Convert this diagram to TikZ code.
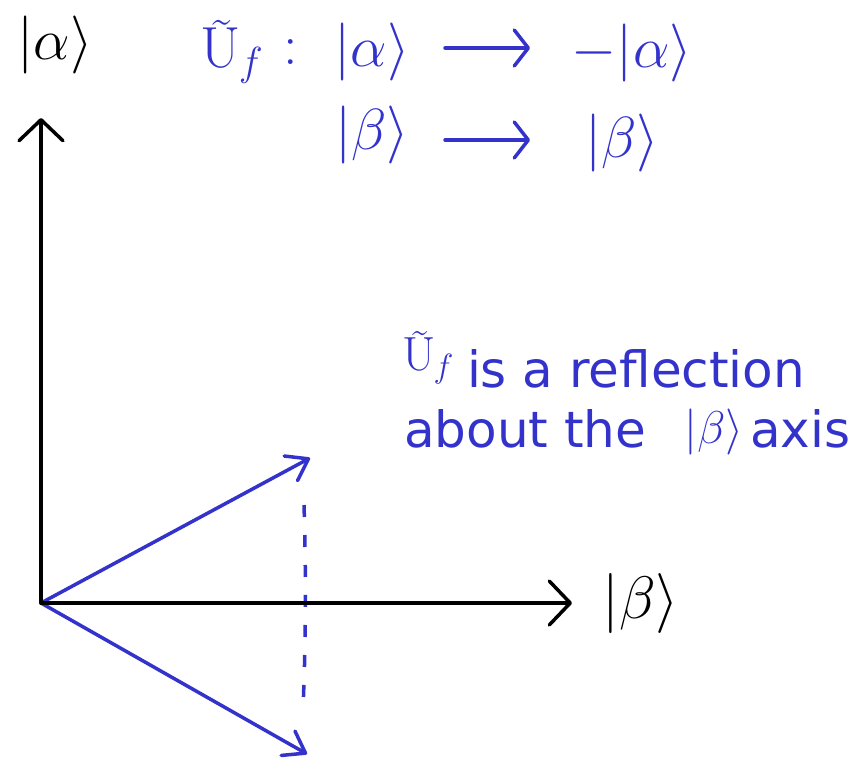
\RequirePackage{fix-cm}
\documentclass[tikz,border=0pt]{standalone}
\usepackage{fontspec}
\newfontfamily\dejavu{DejaVu Sans}
\usetikzlibrary{arrows.meta}
\definecolor{pen}{RGB}{51,51,204}
\newcommand\myfs[1]{\fontsize{#1}{#1}\selectfont}
\begin{document}
\begin{tikzpicture}[x=1pt,y=-1pt,
  axisline/.style={line width=3.5pt, line cap=round, black,
    -{Straight Barb[length=21pt,width=44pt,round]}},
  vecline/.style={line width=3.5pt, line cap=round, pen,
    -{Straight Barb[length=20pt,width=28pt,round]}},
  textarrow/.style={line width=3.5pt, line cap=round, pen,
    -{Straight Barb[length=14pt,width=36pt,round]}},
  dashline/.style={line width=3.5pt, pen, dash pattern=on 12pt off 18pt},
  hand/.style={inner sep=0pt, outer sep=0pt},
  prose/.style={inner sep=0pt, outer sep=0pt, pen, font=\dejavu\myfs{50}}
]
\useasboundingbox (0,0) rectangle (861,760);

% axes and vectors
\coordinate (O) at (41,603);
\coordinate (Ytip) at (41,118);
\coordinate (Xtip) at (572,603);
\coordinate (V1) at (310,458);
\coordinate (V2) at (307,754);
\coordinate (D1) at (304,505);
\coordinate (D2) at (303,708);

\draw[vecline] (O) -- (V1);
\draw[vecline] (O) -- (V2);
\draw[dashline] (D1) .. controls (306,570) and (306,640) .. (D2);
\draw[axisline] (O) -- (Ytip);
\draw[axisline] (O) -- (Xtip);

% axis labels
\node[hand, black, font=\myfs{58}] (alpha) at (55,45) {$|\alpha\rangle$};
\node[hand, black, font=\myfs{60}] (beta) at (641,603) {$|\beta\rangle$};

% top mapping
\node[hand, pen, font=\myfs{58}] (U) at (232,52) {Ũ\kern-2pt$_f$};
\node[hand, pen, font=\myfs{58}] (colon) at (291,52) {$:$};
\node[hand, pen, font=\myfs{58}] (ka1) at (372,52) {$|\alpha\rangle$};
\node[hand, pen, font=\myfs{58}] (ka2) at (632,53) {$-|\alpha\rangle$};
\node[hand, pen, font=\myfs{58}] (kb1) at (372,135) {$|\beta\rangle$};
\node[hand, pen, font=\myfs{58}] (kb2) at (622,143) {$|\beta\rangle$};
\coordinate (A1s) at (445,48);
\coordinate (A1e) at (530,48);
\coordinate (A2s) at (445,140);
\coordinate (A2e) at (530,140);
\draw[textarrow] (A1s) -- (A1e);
\draw[textarrow] (A2s) -- (A2e);

% description
\node[hand, pen, font=\myfs{48}, anchor=east] (U2) at (454,358) {Ũ\kern-2pt$_f$};
\node[prose, anchor=base west] (l1) at (467,387) {is a reflection};
\node[prose, anchor=base west] (l2) at (404,447) {about the};
\node[hand, pen, font=\myfs{46}] (kb3) at (714,432) {$|\beta\rangle$};
\node[prose, anchor=base west] (l3) at (750,447) {axis};
\end{tikzpicture}
\end{document}
